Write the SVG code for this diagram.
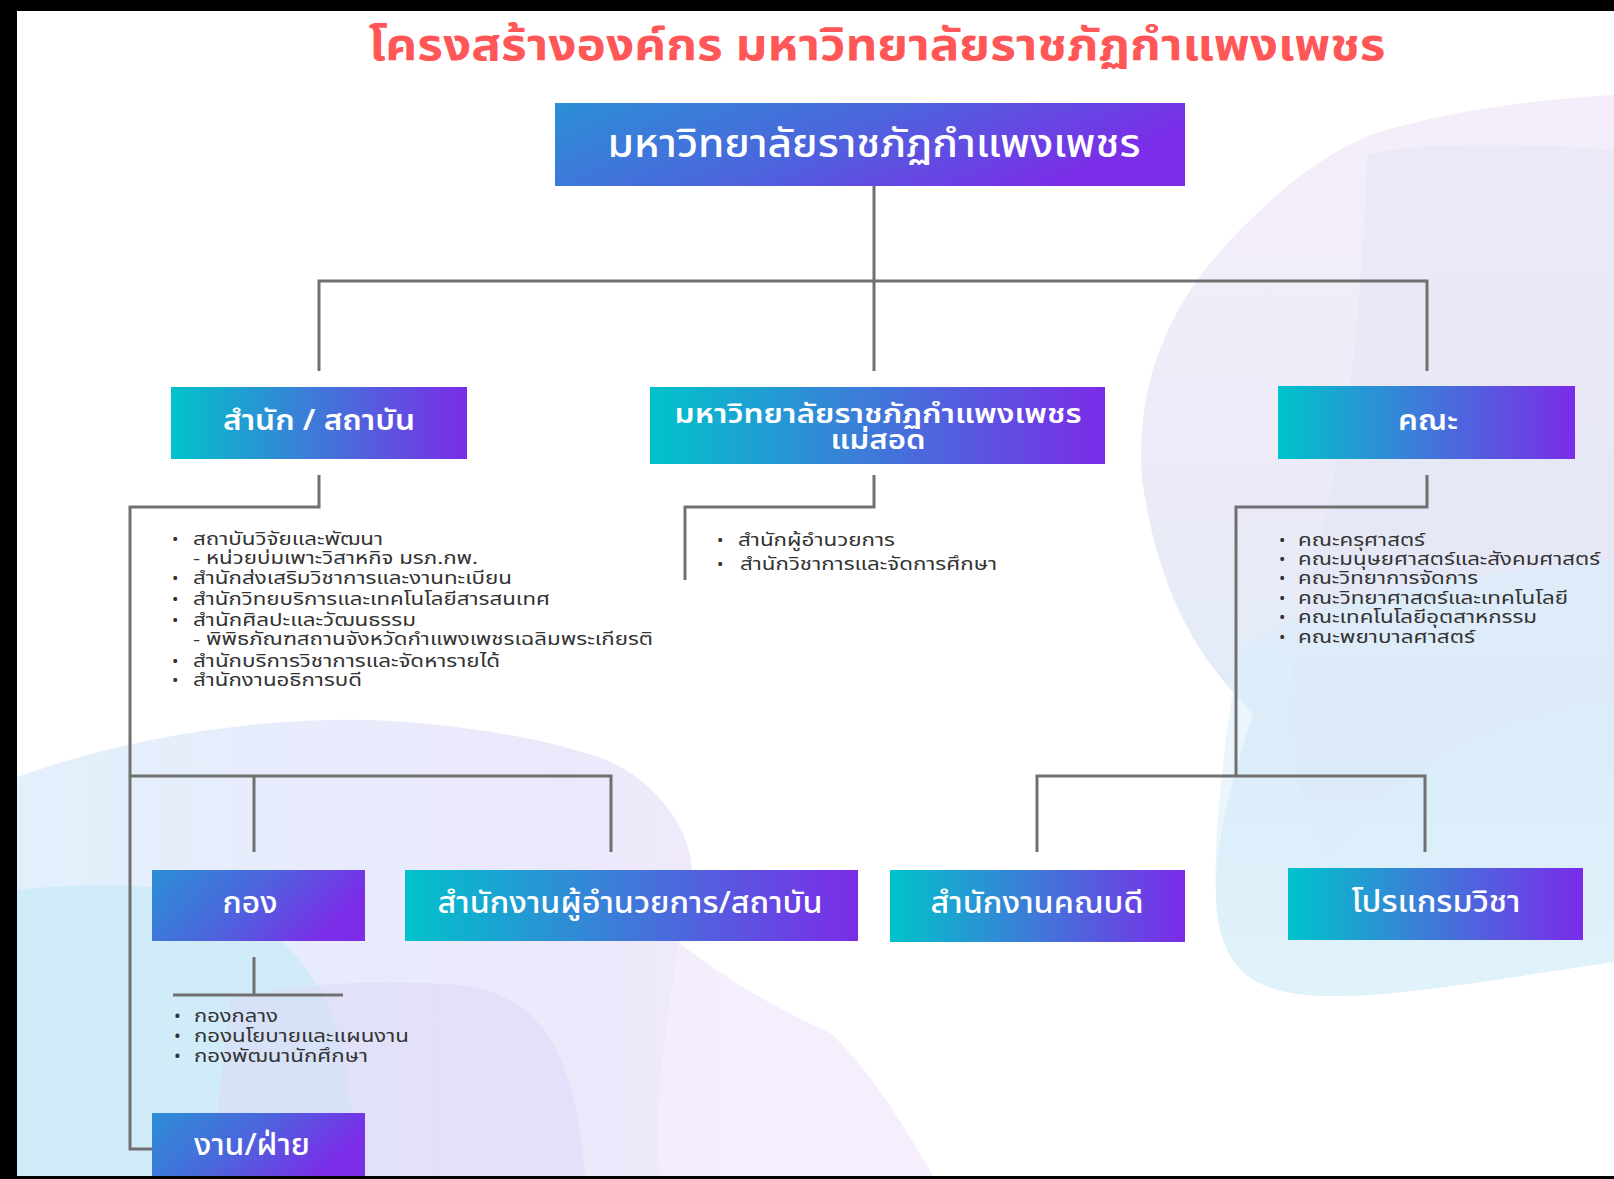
<svg xmlns="http://www.w3.org/2000/svg" width="1614" height="1179" viewBox="0 0 1614 1179">
<defs>
<linearGradient id="gBlue" x1="0" y1="0" x2="1" y2="0.3">
<stop offset="0" stop-color="#2b8fd6"/><stop offset="0.5" stop-color="#4b66dc"/><stop offset="1" stop-color="#7b2de8"/>
</linearGradient>
<linearGradient id="gTeal" x1="0" y1="0" x2="1" y2="0">
<stop offset="0" stop-color="#00c3cb"/><stop offset="0.45" stop-color="#3a7fd8"/><stop offset="1" stop-color="#7b2be8"/>
</linearGradient>
<linearGradient id="bgL" x1="0" y1="0" x2="1" y2="0">
<stop offset="0" stop-color="#e3f0fc"/><stop offset="0.6" stop-color="#ece8fb"/><stop offset="1" stop-color="#f4ecfb"/>
</linearGradient>
<linearGradient id="bgR" x1="0" y1="0" x2="0" y2="1">
<stop offset="0" stop-color="#f5eefa"/><stop offset="0.45" stop-color="#ebebf7"/><stop offset="0.75" stop-color="#deedf9"/><stop offset="1" stop-color="#e9f8fc"/>
</linearGradient>
<style>
.ttl{font-family:"Noto Sans Thai","Noto Sans",sans-serif;font-weight:700;font-size:44px;fill:#ff5757}
.lbl{font-family:"Noto Sans Thai","Noto Sans",sans-serif;fill:#ffffff;font-size:28px;font-weight:600;text-anchor:middle}
.lbig{font-size:40px;font-weight:500}
.lmid{font-size:26px}
.lcond{font-size:30px;font-weight:500}
.li{font-family:"Noto Sans Thai","Noto Sans",sans-serif;fill:#333333;font-size:17px}
.lic{font-size:18px}
.cn{fill:none;stroke:#707070;stroke-width:3}
</style>
</defs>
<rect x="0" y="0" width="1614" height="1179" fill="#000"/>
<rect x="17" y="11" width="1597" height="1165" fill="#ffffff"/>
<g id="background">
<path d="M1373,134 C1450,110 1550,98 1614,95 L1614,962 C1520,975 1400,998 1323,996 C1260,994 1225,975 1217,913 C1212,860 1225,800 1253,713 C1200,660 1160,600 1142,480 C1135,380 1170,300 1240,230 C1280,190 1320,155 1373,134 Z" fill="url(#bgR)"/>
<path d="M1367,155 C1420,140 1560,145 1614,150 L1614,700 C1500,720 1400,760 1330,860 C1290,800 1280,700 1300,620 C1330,500 1360,400 1367,155 Z" fill="#e4e6f5" opacity="0.55"/>
<path d="M1240,650 C1300,600 1450,575 1614,560 L1614,962 C1520,975 1400,998 1323,996 C1260,994 1225,975 1217,913 C1212,860 1220,760 1240,650 Z" fill="#d8edf9" opacity="0.5"/>
<path d="M17,777 C120,740 230,722 333,720 C420,718 540,735 606,760 C650,778 685,820 691,860 C695,900 685,920 679,943 C740,990 800,1020 830,1033 C870,1070 900,1120 933,1176 L17,1176 Z" fill="url(#bgL)"/>
<path d="M660,1176 C655,1120 660,1060 679,943 C740,990 800,1020 830,1033 C870,1070 900,1120 933,1176 Z" fill="#f6f0fc" opacity="0.7"/>
<path d="M17,890 C60,885 140,880 200,895 C280,920 330,980 345,1060 C352,1110 355,1150 356,1176 L17,1176 Z" fill="#c9ebf8" opacity="0.75"/>
<path d="M230,1000 C270,985 380,978 460,985 C540,995 575,1050 585,1176 L210,1176 Z" fill="#dcd9f8" opacity="0.55"/>
</g>
<text class="ttl" x="877" y="60" text-anchor="middle" textLength="1017" lengthAdjust="spacingAndGlyphs">โครงสร้างองค์กร มหาวิทยาลัยราชภัฏกำแพงเพชร</text>
<g id="connectors">
<path class="cn" d="M874,186 V371 M319,371 V281 H1427 V371"/>
<path class="cn" d="M319,475 V507 H130 V1149 H152"/>
<path class="cn" d="M130,776 H611 V852 M254,776 V852"/>
<path class="cn" d="M874,475 V507 H685 V580"/>
<path class="cn" d="M1427,475 V507 H1236 V776 M1037,852 V776 H1425 V852"/>
<path class="cn" d="M254,957 V995 M173,995 H343"/>
</g>
<g id="n-root">
<rect x="555" y="103" width="630" height="83" fill="url(#gBlue)"/>
<text class="lbl lbig" x="874" y="157" textLength="533" lengthAdjust="spacingAndGlyphs">มหาวิทยาลัยราชภัฏกำแพงเพชร</text>
</g>
<g id="n-office">
<rect x="171" y="387" width="296" height="72" fill="url(#gTeal)"/>
<text class="lbl" x="319" y="430" textLength="192" lengthAdjust="spacingAndGlyphs">สำนัก / สถาบัน</text>
</g>
<g id="n-maesot">
<rect x="650" y="387" width="455" height="77" fill="url(#gTeal)"/>
<text class="lbl lmid" x="878" y="423" textLength="407" lengthAdjust="spacingAndGlyphs">มหาวิทยาลัยราชภัฏกำแพงเพชร</text>
<text class="lbl lmid" x="878" y="449" textLength="95" lengthAdjust="spacingAndGlyphs">แม่สอด</text>
</g>
<g id="n-faculty">
<rect x="1278" y="386" width="297" height="73" fill="url(#gTeal)"/>
<text class="lbl" x="1428" y="430" textLength="60" lengthAdjust="spacingAndGlyphs">คณะ</text>
</g>
<g id="list-office" class="li">
<text x="172" y="545">•</text><text x="193" y="545" textLength="190" lengthAdjust="spacingAndGlyphs">สถาบันวิจัยและพัฒนา</text>
<text x="193" y="564" textLength="285" lengthAdjust="spacingAndGlyphs">- หน่วยบ่มเพาะวิสาหกิจ มรภ.กพ.</text>
<text x="172" y="584">•</text><text x="193" y="584" textLength="319" lengthAdjust="spacingAndGlyphs">สำนักส่งเสริมวิชาการและงานทะเบียน</text>
<text x="172" y="605">•</text><text x="193" y="605" textLength="357" lengthAdjust="spacingAndGlyphs">สำนักวิทยบริการและเทคโนโลยีสารสนเทศ</text>
<text x="172" y="626">•</text><text x="193" y="626" textLength="223" lengthAdjust="spacingAndGlyphs">สำนักศิลปะและวัฒนธรรม</text>
<text x="193" y="645" textLength="460" lengthAdjust="spacingAndGlyphs">- พิพิธภัณฑสถานจังหวัดกำแพงเพชรเฉลิมพระเกียรติ</text>
<text x="172" y="667">•</text><text x="193" y="667" textLength="307" lengthAdjust="spacingAndGlyphs">สำนักบริการวิชาการและจัดหารายได้</text>
<text x="172" y="686">•</text><text x="193" y="686" textLength="169" lengthAdjust="spacingAndGlyphs">สำนักงานอธิการบดี</text>
</g>
<g id="list-maesot" class="li">
<text x="717" y="546">•</text><text x="738" y="546" textLength="157" lengthAdjust="spacingAndGlyphs">สำนักผู้อำนวยการ</text>
<text x="717" y="570">•</text><text x="740" y="570" textLength="257" lengthAdjust="spacingAndGlyphs">สำนักวิชาการและจัดการศึกษา</text>
</g>
<g id="list-faculty" class="li">
<text x="1279" y="546">•</text><text x="1298" y="546" textLength="127" lengthAdjust="spacingAndGlyphs">คณะครุศาสตร์</text>
<text x="1279" y="565">•</text><text x="1298" y="565" textLength="302" lengthAdjust="spacingAndGlyphs">คณะมนุษยศาสตร์และสังคมศาสตร์</text>
<text x="1279" y="584">•</text><text x="1298" y="584" textLength="180" lengthAdjust="spacingAndGlyphs">คณะวิทยาการจัดการ</text>
<text x="1279" y="604">•</text><text x="1298" y="604" textLength="270" lengthAdjust="spacingAndGlyphs">คณะวิทยาศาสตร์และเทคโนโลยี</text>
<text x="1279" y="623">•</text><text x="1298" y="623" textLength="239" lengthAdjust="spacingAndGlyphs">คณะเทคโนโลยีอุตสาหกรรม</text>
<text x="1279" y="643">•</text><text x="1298" y="643" textLength="177" lengthAdjust="spacingAndGlyphs">คณะพยาบาลศาสตร์</text>
</g>
<g id="n-division">
<rect x="152" y="870" width="213" height="71" fill="url(#gBlue)"/>
<text class="lbl lcond" x="250" y="913" textLength="55" lengthAdjust="spacingAndGlyphs">กอง</text>
</g>
<g id="n-director">
<rect x="405" y="870" width="453" height="71" fill="url(#gTeal)"/>
<text class="lbl lcond" x="630" y="913" textLength="385" lengthAdjust="spacingAndGlyphs">สำนักงานผู้อำนวยการ/สถาบัน</text>
</g>
<g id="n-dean">
<rect x="890" y="870" width="295" height="72" fill="url(#gTeal)"/>
<text class="lbl lcond" x="1037" y="913" textLength="213" lengthAdjust="spacingAndGlyphs">สำนักงานคณบดี</text>
</g>
<g id="n-program">
<rect x="1288" y="868" width="295" height="72" fill="url(#gTeal)"/>
<text class="lbl lcond" x="1436" y="912" textLength="169" lengthAdjust="spacingAndGlyphs">โปรแกรมวิชา</text>
</g>
<g id="list-division" class="li lic">
<text x="174" y="1022">•</text><text x="194" y="1022" textLength="84" lengthAdjust="spacingAndGlyphs">กองกลาง</text>
<text x="174" y="1042">•</text><text x="194" y="1042" textLength="215" lengthAdjust="spacingAndGlyphs">กองนโยบายและแผนงาน</text>
<text x="174" y="1062">•</text><text x="194" y="1062" textLength="174" lengthAdjust="spacingAndGlyphs">กองพัฒนานักศึกษา</text>
</g>
<g id="n-unit">
<rect x="152" y="1113" width="213" height="63" fill="url(#gBlue)"/>
<text class="lbl lcond" x="252" y="1155" textLength="116" lengthAdjust="spacingAndGlyphs">งาน/ฝ่าย</text>
</g>
</svg>
